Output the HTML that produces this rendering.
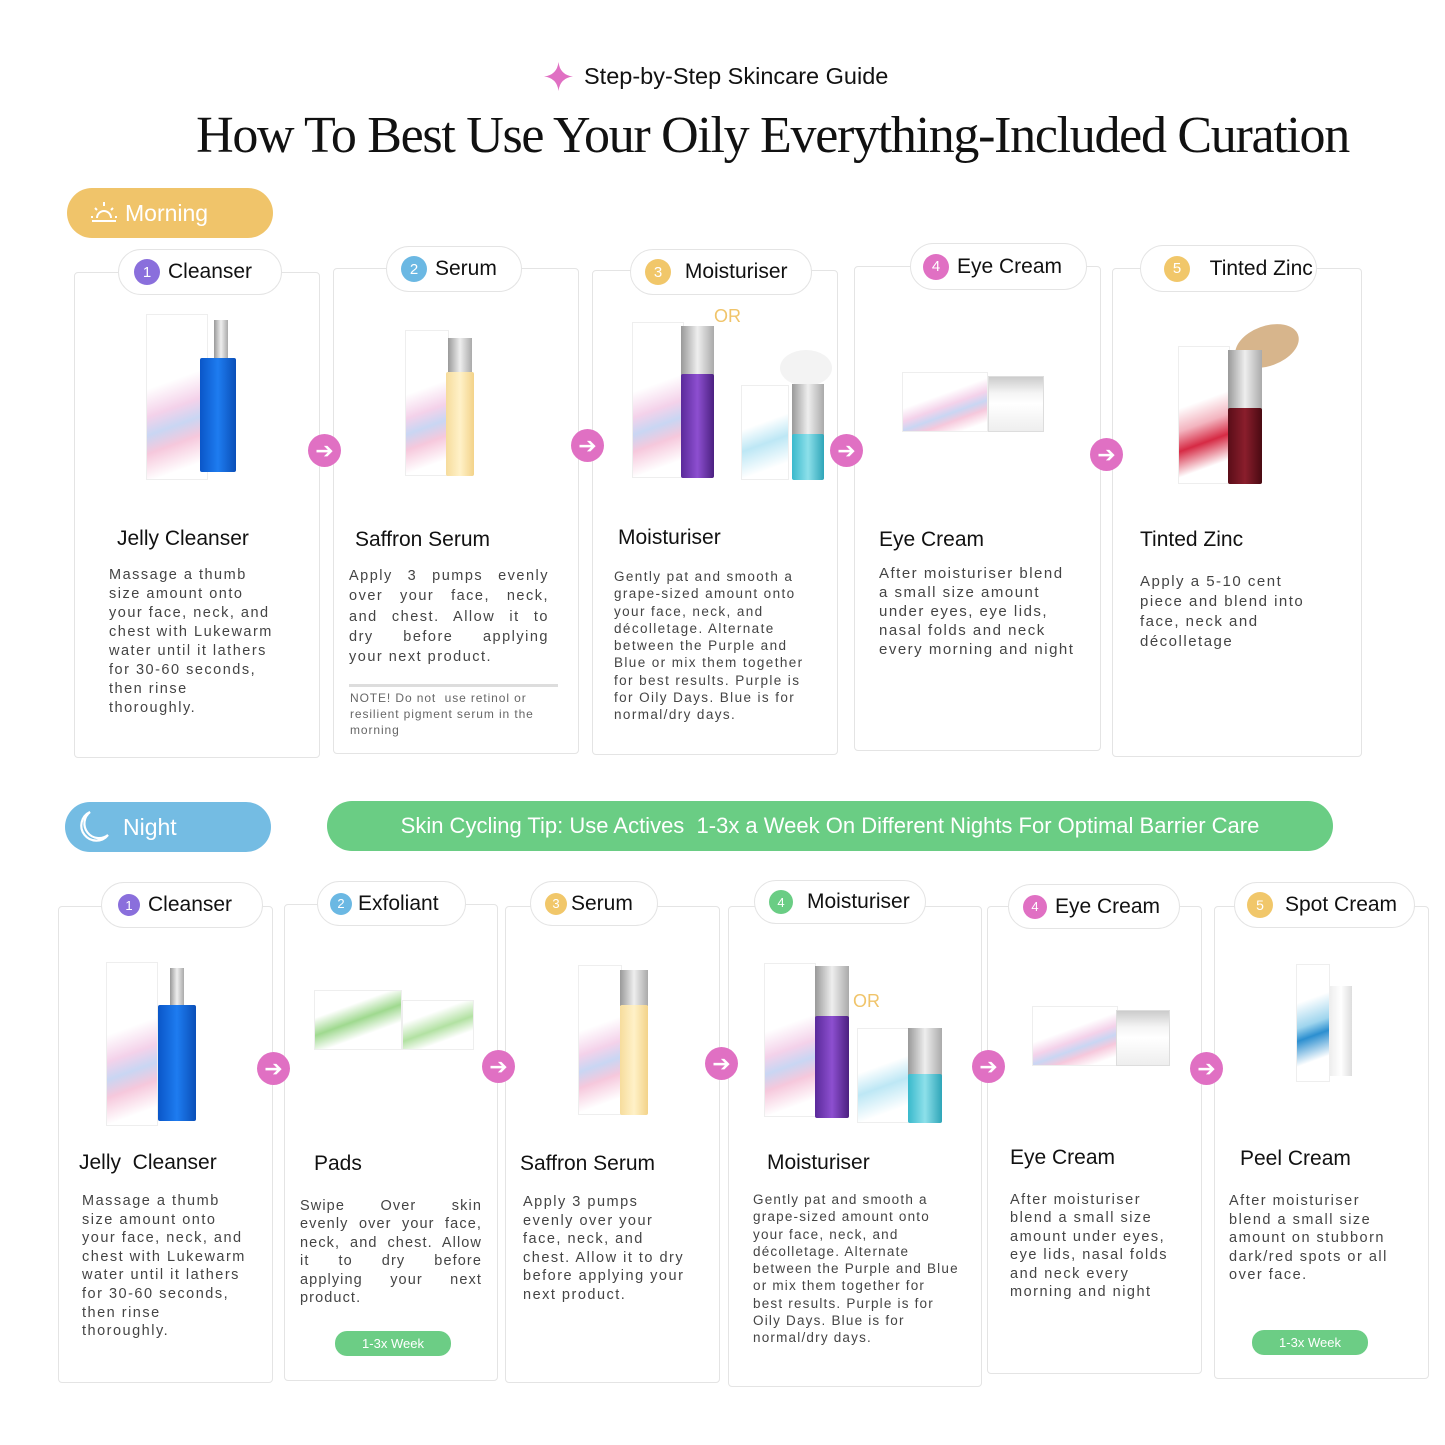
<!DOCTYPE html>
<html><head><meta charset="utf-8"><style>
*{margin:0;padding:0;box-sizing:border-box}
body{width:1445px;height:1445px;background:#fff;position:relative;overflow:hidden;font-family:"Liberation Sans",sans-serif;color:#111}
.a{position:absolute}
.card{position:absolute;border:1.5px solid #e4e4e4;border-radius:4px;background:#fff}
.pill{position:absolute;background:#fff;border:1.5px solid #e4e4e4;border-radius:24px;font-size:21px;color:#111;display:flex;align-items:center;white-space:nowrap}
.num{width:26px;height:26px;border-radius:50%;color:#fff;font-size:15px;display:flex;align-items:center;justify-content:center;margin-right:8px;flex:none}
.t{position:absolute;font-size:21px;color:#111;white-space:nowrap}
.b{position:absolute;font-size:14.5px;line-height:19px;letter-spacing:1.5px;color:#444;white-space:nowrap}
.j div{text-align:justify;text-align-last:justify}
.arr{position:absolute;width:33px;height:33px;border-radius:50%;background:#e070c3;color:#fff;font-size:22px;display:flex;align-items:center;justify-content:center;line-height:1}
.box{position:absolute;background:linear-gradient(160deg,#fff 40%,#f4d2ea 55%,#c9d6f3 65%,#f6c8dc 75%,#fff 90%);border:1px solid #eee}
.btl{position:absolute;border-radius:2px}
.cap{position:absolute;background:linear-gradient(90deg,#999,#eee,#aaa)}
.wk{position:absolute;background:#6ccd85;color:#fff;font-size:13px;border-radius:12px;display:flex;align-items:center;justify-content:center}
</style></head><body>

<div class="a" style="left:544px;top:62px;width:29px;height:29px">
<svg width="29" height="29" viewBox="0 0 29 29"><path d="M14.5 0 Q16 13 29 14.5 Q16 16 14.5 29 Q13 16 0 14.5 Q13 13 14.5 0Z" fill="#e070c3"/></svg></div>
<div class="a" style="left:584px;top:63px;font-size:23.5px;color:#111">Step-by-Step Skincare Guide</div>
<div class="a" style="left:0;width:1545px;text-align:center;top:106px;font-family:'Liberation Serif',serif;font-size:52px;letter-spacing:-1.3px;color:#111">How To Best Use Your Oily Everything-Included Curation</div>

<div class="a" style="left:67px;top:188px;width:206px;height:50px;border-radius:25px;background:#f0c46a;color:#fff;font-size:23px;display:flex;align-items:center;padding-left:58px">Morning</div>
<div class="a" style="left:90px;top:200px;width:28px;height:24px">
<svg width="28" height="24" viewBox="0 0 28 24" fill="none" stroke="#fff" stroke-width="2"><path d="M7 18a7 7 0 0 1 14 0"/><line x1="2" y1="21" x2="26" y2="21"/><line x1="14" y1="2" x2="14" y2="6"/><line x1="5" y1="8" x2="7" y2="10"/><line x1="23" y1="8" x2="21" y2="10"/><line x1="1" y1="17" x2="3" y2="17"/><line x1="25" y1="17" x2="27" y2="17"/></svg></div>

<div class="card" style="left:74px;top:272px;width:246px;height:486px"></div>
<div class="card" style="left:333px;top:268px;width:246px;height:486px"></div>
<div class="card" style="left:592px;top:270px;width:246px;height:485px"></div>
<div class="card" style="left:854px;top:266px;width:247px;height:485px"></div>
<div class="card" style="left:1112px;top:268px;width:250px;height:489px"></div>

<div class="pill" style="left:118px;top:249px;width:164px;height:46px;padding-left:15px"><span class="num" style="background:#8a6fdc">1</span>Cleanser</div>
<div class="pill" style="left:386px;top:246px;width:136px;height:46px;padding-left:14px"><span class="num" style="background:#6bb8e3">2</span>Serum</div>
<div class="pill" style="left:630px;top:249px;width:182px;height:46px;padding-left:14px"><span class="num" style="background:#f1c76a">3</span>&nbsp;Moisturiser</div>
<div class="pill" style="left:910px;top:243px;width:177px;height:47px;padding-left:12px"><span class="num" style="background:#e070c3">4</span>Eye Cream</div>
<div class="pill" style="left:1140px;top:245px;width:177px;height:47px;padding-left:23px"><span class="num" style="background:#f1c76a">5</span>&nbsp;&nbsp;Tinted Zinc</div>

<div class="box" style="left:146px;top:314px;width:62px;height:166px"></div>
<div class="cap" style="left:214px;top:320px;width:14px;height:40px"></div>
<div class="btl" style="left:200px;top:358px;width:36px;height:114px;background:linear-gradient(90deg,#0a56c8,#1e7cf0,#0a4fb8)"></div>

<div class="box" style="left:405px;top:330px;width:44px;height:146px"></div>
<div class="cap" style="left:448px;top:338px;width:24px;height:36px"></div>
<div class="btl" style="left:446px;top:372px;width:28px;height:104px;background:linear-gradient(90deg,#f6dc9c,#fff1c8,#f3d389)"></div>

<div class="a" style="left:714px;top:306px;color:#f0c46a;font-size:18px">OR</div>
<div class="box" style="left:632px;top:322px;width:52px;height:156px"></div>
<div class="cap" style="left:681px;top:326px;width:33px;height:50px"></div>
<div class="btl" style="left:681px;top:374px;width:33px;height:104px;background:linear-gradient(90deg,#5a2a9a,#8d4fd0,#4b2080)"></div>
<div class="box" style="left:741px;top:385px;width:48px;height:95px;background:linear-gradient(160deg,#fff 40%,#bde7f5 60%,#fff 85%)"></div>
<div class="a" style="left:780px;top:350px;width:52px;height:36px;border-radius:50%;background:#f3f3f3"></div>
<div class="cap" style="left:792px;top:384px;width:32px;height:52px"></div>
<div class="btl" style="left:792px;top:434px;width:32px;height:46px;background:linear-gradient(90deg,#39b9cc,#8de0ea,#2ea5b8)"></div>

<div class="box" style="left:902px;top:372px;width:86px;height:60px"></div>
<div class="a" style="left:988px;top:376px;width:56px;height:56px;background:linear-gradient(180deg,#ccc,#f5f5f5 30%,#fff 50%,#eee);border:1px solid #ddd"></div>

<div class="box" style="left:1178px;top:346px;width:52px;height:138px;background:linear-gradient(160deg,#fff 40%,#f3b4bf 55%,#d62a44 68%,#fff 85%)"></div>
<div class="a" style="left:1234px;top:326px;width:66px;height:40px;border-radius:50%;background:#d7b58c;transform:rotate(-20deg)"></div>
<div class="cap" style="left:1228px;top:350px;width:34px;height:60px"></div>
<div class="btl" style="left:1228px;top:408px;width:34px;height:76px;background:linear-gradient(90deg,#5a0d18,#8a1e2c,#4a0a12)"></div>

<div class="arr" style="left:308px;top:434px">➔</div>
<div class="arr" style="left:571px;top:429px">➔</div>
<div class="arr" style="left:830px;top:434px">➔</div>
<div class="arr" style="left:1090px;top:438px">➔</div>

<div class="t" style="left:117px;top:527px">Jelly Cleanser</div>
<div class="b" style="left:109px;top:566px">Massage a thumb<br>size amount onto<br>your face, neck, and<br>chest with Lukewarm<br>water until it lathers<br>for 30-60 seconds,<br>then rinse<br>thoroughly.</div>

<div class="t" style="left:355px;top:528px">Saffron Serum</div>
<div class="b j" style="left:349px;top:566px;line-height:20.3px;width:200px"><div>Apply 3 pumps evenly</div><div>over your face, neck,</div><div>and chest. Allow it to</div><div>dry before applying</div><div style="text-align-last:left">your next product.</div></div>
<div class="a" style="left:349px;top:684px;width:209px;height:3px;background:#ddd"></div>
<div class="b" style="left:350px;top:690px;font-size:12px;line-height:16px;letter-spacing:.9px;color:#666">NOTE! Do not &nbsp;use retinol or<br>resilient pigment serum in the<br>morning</div>

<div class="t" style="left:618px;top:526px">Moisturiser</div>
<div class="b" style="left:614px;top:568px;font-size:13.5px;line-height:17.3px;letter-spacing:1.4px">Gently pat and smooth a<br>grape-sized amount onto<br>your face, neck, and<br>décolletage. Alternate<br>between the Purple and<br>Blue or mix them together<br>for best results. Purple is<br>for Oily Days. Blue is for<br>normal/dry days.</div>

<div class="t" style="left:879px;top:528px">Eye Cream</div>
<div class="b" style="left:879px;top:564px;font-size:15px;line-height:19px">After moisturiser blend<br>a small size amount<br>under eyes, eye lids,<br>nasal folds and neck<br>every morning and night</div>

<div class="t" style="left:1140px;top:528px">Tinted Zinc</div>
<div class="b" style="left:1140px;top:572px;font-size:15px;line-height:20px">Apply a 5-10 cent<br>piece and blend into<br>face, neck and<br>décolletage</div>

<div class="a" style="left:65px;top:802px;width:206px;height:50px;border-radius:25px;background:#74bce3;color:#fff;font-size:23px;display:flex;align-items:center;padding-left:58px">Night</div>
<div class="a" style="left:76px;top:809px;width:36px;height:36px">
<svg width="36" height="36" viewBox="0 0 36 36" fill="none" stroke="#fff" stroke-width="2.2"><path d="M14 3 A15 15 0 1 0 32 26 A13 13 0 0 1 14 3Z"/></svg></div>
<div class="a" style="left:327px;top:801px;width:1006px;height:50px;border-radius:25px;background:#6acd84;color:#fff;font-size:22px;display:flex;align-items:center;justify-content:center;white-space:pre">Skin Cycling Tip: Use Actives  1-3x a Week On Different Nights For Optimal Barrier Care</div>

<div class="card" style="left:58px;top:906px;width:215px;height:477px"></div>
<div class="card" style="left:284px;top:904px;width:214px;height:477px"></div>
<div class="card" style="left:505px;top:906px;width:215px;height:477px"></div>
<div class="card" style="left:728px;top:906px;width:254px;height:481px"></div>
<div class="card" style="left:987px;top:906px;width:215px;height:468px"></div>
<div class="card" style="left:1214px;top:906px;width:215px;height:473px"></div>

<div class="pill" style="left:101px;top:882px;width:162px;height:46px;padding-left:16px"><span class="num" style="background:#8a6fdc;width:22px;height:22px;font-size:13px">1</span>Cleanser</div>
<div class="pill" style="left:317px;top:881px;width:149px;height:45px;padding-left:12px"><span class="num" style="background:#6bb8e3;width:22px;height:22px;font-size:13px;margin-right:6px">2</span>Exfoliant</div>
<div class="pill" style="left:530px;top:881px;width:128px;height:45px;padding-left:14px"><span class="num" style="background:#f1c76a;width:22px;height:22px;font-size:13px;margin-right:4px">3</span>Serum</div>
<div class="pill" style="left:754px;top:880px;width:172px;height:44px;padding-left:14px"><span class="num" style="background:#6acd84;width:24px;height:24px;font-size:13px;margin-right:14px">4</span>Moisturiser</div>
<div class="pill" style="left:1008px;top:884px;width:172px;height:45px;padding-left:14px"><span class="num" style="background:#e070c3;width:24px;height:24px;font-size:13px">4</span>Eye Cream</div>
<div class="pill" style="left:1234px;top:882px;width:181px;height:46px;padding-left:12px"><span class="num" style="background:#f1c76a;width:26px;height:26px;font-size:14px;margin-right:12px">5</span>Spot Cream</div>

<div class="box" style="left:106px;top:962px;width:52px;height:164px"></div>
<div class="cap" style="left:170px;top:968px;width:14px;height:38px"></div>
<div class="btl" style="left:158px;top:1005px;width:38px;height:116px;background:linear-gradient(90deg,#0a56c8,#1e7cf0,#0a4fb8)"></div>

<div class="box" style="left:314px;top:990px;width:88px;height:60px;background:linear-gradient(160deg,#fff 30%,#9fd98f 50%,#fff 70%)"></div>
<div class="a" style="left:402px;top:1000px;width:72px;height:50px;background:linear-gradient(160deg,#fff 30%,#b2e1a2 55%,#fff 75%);border:1px solid #eee"></div>

<div class="box" style="left:578px;top:965px;width:44px;height:150px"></div>
<div class="cap" style="left:620px;top:970px;width:28px;height:36px"></div>
<div class="btl" style="left:620px;top:1005px;width:28px;height:110px;background:linear-gradient(90deg,#f6dc9c,#fff1c8,#f3d389)"></div>

<div class="a" style="left:853px;top:991px;color:#f0c46a;font-size:18px">OR</div>
<div class="box" style="left:764px;top:963px;width:52px;height:154px"></div>
<div class="cap" style="left:815px;top:966px;width:34px;height:52px"></div>
<div class="btl" style="left:815px;top:1016px;width:34px;height:102px;background:linear-gradient(90deg,#5a2a9a,#8d4fd0,#4b2080)"></div>
<div class="box" style="left:857px;top:1028px;width:52px;height:95px;background:linear-gradient(160deg,#fff 40%,#bde7f5 60%,#fff 85%)"></div>
<div class="cap" style="left:908px;top:1028px;width:34px;height:48px"></div>
<div class="btl" style="left:908px;top:1074px;width:34px;height:49px;background:linear-gradient(90deg,#39b9cc,#8de0ea,#2ea5b8)"></div>

<div class="box" style="left:1032px;top:1006px;width:86px;height:60px"></div>
<div class="a" style="left:1116px;top:1010px;width:54px;height:56px;background:linear-gradient(180deg,#ccc,#f5f5f5 30%,#fff 50%,#eee);border:1px solid #ddd"></div>

<div class="box" style="left:1296px;top:964px;width:34px;height:118px;background:linear-gradient(160deg,#fff 30%,#9fd5ee 50%,#2c8fd0 60%,#fff 80%)"></div>
<div class="a" style="left:1330px;top:986px;width:22px;height:90px;background:linear-gradient(90deg,#eee,#fff,#ddd)"></div>

<div class="arr" style="left:257px;top:1052px">➔</div>
<div class="arr" style="left:482px;top:1050px">➔</div>
<div class="arr" style="left:705px;top:1047px">➔</div>
<div class="arr" style="left:972px;top:1050px">➔</div>
<div class="arr" style="left:1190px;top:1052px">➔</div>

<div class="t" style="left:79px;top:1151px;white-space:pre">Jelly  Cleanser</div>
<div class="b" style="left:82px;top:1192px;font-size:14.5px;line-height:18.6px">Massage a thumb<br>size amount onto<br>your face, neck, and<br>chest with Lukewarm<br>water until it lathers<br>for 30-60 seconds,<br>then rinse<br>thoroughly.</div>

<div class="t" style="left:314px;top:1152px">Pads</div>
<div class="b j" style="left:300px;top:1197px;width:182px;line-height:18.4px;letter-spacing:1.1px"><div>Swipe Over skin</div><div>evenly over your face,</div><div>neck, and chest. Allow</div><div>it to dry before</div><div>applying your next</div><div style="text-align-last:left">product.</div></div>
<div class="wk" style="left:335px;top:1331px;width:116px;height:25px">1-3x Week</div>

<div class="t" style="left:520px;top:1152px">Saffron Serum</div>
<div class="b" style="left:523px;top:1193px;line-height:18.6px">Apply 3 pumps<br>evenly over your<br>face, neck, and<br>chest. Allow it to dry<br>before applying your<br>next product.</div>

<div class="t" style="left:767px;top:1151px">Moisturiser</div>
<div class="b" style="left:753px;top:1191px;font-size:13.5px;line-height:17.3px;letter-spacing:1.2px">Gently pat and smooth a<br>grape-sized amount onto<br>your face, neck, and<br>décolletage. Alternate<br>between the Purple and Blue<br>or mix them together for<br>best results. Purple is for<br>Oily Days. Blue is for<br>normal/dry days.</div>

<div class="t" style="left:1010px;top:1146px">Eye Cream</div>
<div class="b" style="left:1010px;top:1191px;line-height:18.4px">After moisturiser<br>blend a small size<br>amount under eyes,<br>eye lids, nasal folds<br>and neck every<br>morning and night</div>

<div class="t" style="left:1240px;top:1147px">Peel Cream</div>
<div class="b" style="left:1229px;top:1192px;line-height:18.6px">After moisturiser<br>blend a small size<br>amount on stubborn<br>dark/red spots or all<br>over face.</div>
<div class="wk" style="left:1252px;top:1330px;width:116px;height:25px">1-3x Week</div>

</body></html>
